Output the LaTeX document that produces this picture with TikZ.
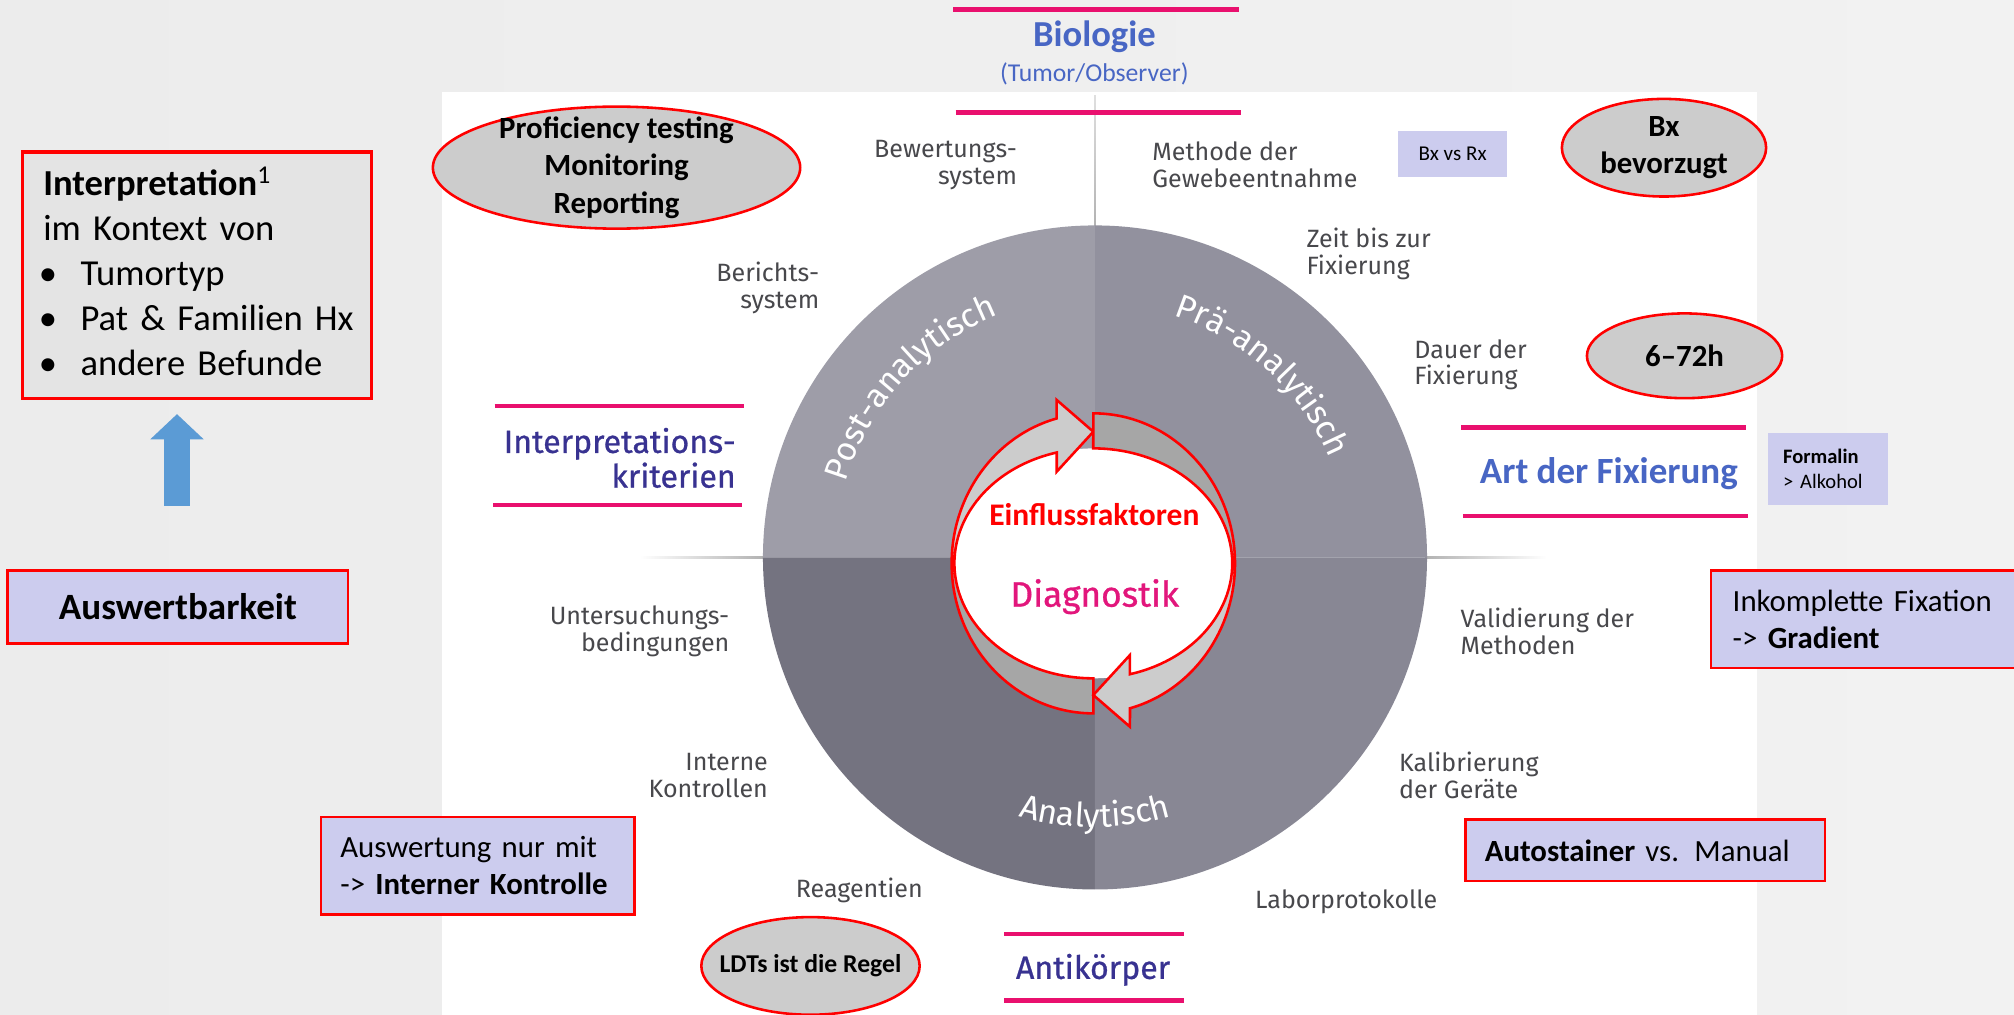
\documentclass[tikz,border=0pt]{standalone}
\usepackage{fontspec}
\setmainfont{Carlito}
\newfontfamily\lblfont{Fira Sans}
\newfontfamily\lblmed{Fira Sans}[FakeBold=0.8]
\usetikzlibrary{shapes.geometric,decorations.text,arrows.meta}

\definecolor{pinkline}{RGB}{233,16,110}
\definecolor{bioblue}{RGB}{72,102,196}
\definecolor{indigo}{RGB}{56,50,145}
\definecolor{diagpink}{RGB}{226,22,124}
\definecolor{lavbox}{RGB}{204,204,238}
\definecolor{boxgray}{RGB}{228,228,228}
\definecolor{ellgray}{RGB}{204,204,204}
\definecolor{lblgray}{RGB}{72,72,76}
\definecolor{upblue}{RGB}{91,155,213}
\definecolor{qtl}{RGB}{158,157,168}
\definecolor{qtr}{RGB}{146,145,158}
\definecolor{qbl}{RGB}{116,115,128}
\definecolor{qbr}{RGB}{136,135,148}
\definecolor{arrlight}{RGB}{204,204,204}
\definecolor{arrdark}{RGB}{166,166,166}
\definecolor{bgl}{RGB}{236,236,236}
\definecolor{bgm}{RGB}{249,249,249}
\definecolor{bgr}{RGB}{242,242,242}

\newcommand\discfont{\color{white}\lblfont\fontsize{26}{26}\selectfont}
\newcommand\bul{\hspace*{-3.5pt}\makebox[32.5pt][l]{•}}

\tikzset{
  looparrow/.pic={
    \begin{scope}[yscale=-1]
      \fill[arrlight] (0,-116.8) arc[start angle=270, end angle=105, x radius=110.3, y radius=116.8]
        -- (-28.5,127.2) -- (0,102.5) -- (-28.5,71.4) -- (-28.5,86.3)
        arc[start angle=105.3, end angle=270, x radius=108.2, y radius=89.5] -- cycle;
      \fill[arrdark] (0,-116.8) arc[start angle=270, end angle=180, x radius=110.3, y radius=116.8]
        -- (-108.2,0) arc[start angle=180, end angle=270, x radius=108.2, y radius=89.5] -- cycle;
      \draw[red, line width=2pt] (0,-116.8) arc[start angle=270, end angle=105, x radius=110.3, y radius=116.8]
        -- (-28.5,127.2) -- (0,102.5) -- (-28.5,71.4) -- (-28.5,86.3)
        arc[start angle=105.3, end angle=270, x radius=108.2, y radius=89.5] -- cycle;
    \end{scope}
  }
}

\begin{document}
\begin{tikzpicture}[x=1pt, y=-1pt,
    lbl/.style={font=\lblfont\fontsize{19.5}{21}\selectfont, text=lblgray, inner sep=0pt},
    head/.style={font=\lblmed\fontsize{25}{27}\selectfont, text=indigo, inner sep=0pt},
    ell/.style={ellipse, draw=red, line width=2pt, fill=ellgray, inner sep=0pt},
    ebold/.style={font=\bfseries\fontsize{24}{29}\selectfont, align=center, inner sep=0pt},
    note/.style={draw=red, line width=2pt, fill=lavbox, inner sep=0pt, inner xsep=15pt,
      align=left, anchor=north west, font=\fontsize{24}{29}\selectfont},
    tag/.style={fill=lavbox, inner sep=0pt, anchor=north west},
    pinkbar/.style={pinkline, line width=3.5pt}]

  \useasboundingbox (0,0) rectangle (1568,790);
  \shade[left color=bgl, middle color=bgm, right color=bgr] (0,0) rectangle (1568,790);
  \fill[white] (344,72) rectangle (1367.7,790);

  \shade[top color=gray!25, bottom color=gray!60] (851.9,74) rectangle (853.1,176);
  \shade[left color=white, right color=gray!60] (498,433.4) rectangle (594,434.6);
  \shade[left color=gray!60, right color=white] (1110,433.4) rectangle (1204,434.6);

  \begin{scope}[shift={(852.5,434)}, yscale=-1]
    \foreach \a/\c in {0/qtr, 90/qtl, 180/qbl, 270/qbr}
      \fill[\c] (0,0) -- (\a:258.5) arc[start angle=\a, delta angle=90, radius=258.5] -- cycle;
  \end{scope}

  \begin{scope}[shift={(852.5,434)}]
    \path[decorate, decoration={text along path, text align=center,
      text={|\discfont|Post-analytisch}}] (-180:203) arc[start angle=-180, end angle=-95, radius=203];
    \path[decorate, decoration={text along path, text align=center,
      text={|\discfont|Prä-analytisch}}] (-90:198) arc[start angle=-90, end angle=-5, radius=198];
    \path[decorate, decoration={text along path, text align=center,
      text={|\discfont|Analytisch}}] (-240:210) arc[start angle=-240, end angle=-300, radius=210];
  \end{scope}

  \fill[white] (851.2,438.6) ellipse[x radius=108.2, y radius=89.5];
  \pic (loopa) at (851.2,438.6) {looparrow};
  \pic[rotate=180] (loopb) at (851.2,438.6) {looparrow};

  \node[font=\bfseries\fontsize{24.5}{29}\selectfont, text=red, inner sep=0pt] (einfl) at (852,401) {Einflussfaktoren};
  \node[font=\lblmed\fontsize{27.5}{30}\selectfont, text=diagpink, inner sep=0pt] (diag) at (852.3,464.5) {Diagnostik};

  \node[font=\bfseries\fontsize{28.5}{30}\selectfont, text=bioblue, anchor=base] (bio) at (852,36.3) {Biologie};
  \node[font=\fontsize{20}{24}\selectfont, text=bioblue, anchor=base] (tumor) at (852,63.5) {(Tumor/Observer)};
  \draw[pinkbar] (742.3,7.3) -- (964.4,7.3);
  \draw[pinkbar] (744,87.7) -- (966,87.7);

  \node[head, anchor=east, align=right] (interpk) at (573,356.5) {Interpretations-\\kriterien};
  \draw[pinkbar] (385,316) -- (579,316);
  \draw[pinkbar] (384,393) -- (578,393);

  \node[font=\bfseries\fontsize{28.8}{30}\selectfont, text=bioblue, inner sep=0pt] (artfix) at (1252.6,368.5) {Art der Fixierung};
  \draw[pinkbar] (1137.5,333) -- (1359.4,333);
  \draw[pinkbar] (1139,401.7) -- (1361,401.7);

  \node[head] (anti) at (851,755) {Antikörper};
  \draw[pinkbar] (782,727) -- (922,727);
  \draw[pinkbar] (782,779) -- (922,779);

  \node[lbl, anchor=east, align=right] (bew) at (792,128.5) {Bewertungs-\\system};
  \node[lbl, anchor=west, align=left] (meth) at (897,128.5) {Methode der\\Gewebeentnahme};
  \node[lbl, anchor=west, align=left] (zeit) at (1017,197.5) {Zeit bis zur\\Fixierung};
  \node[lbl, anchor=east, align=right] (ber) at (638,224.5) {Berichts-\\system};
  \node[lbl, anchor=west, align=left] (dauer) at (1101,284) {Dauer der\\Fixierung};
  \node[lbl, anchor=east, align=right] (unters) at (568,491.8) {Untersuchungs-\\bedingungen};
  \node[lbl, anchor=west, align=left] (valid) at (1137,491.8) {Validierung der\\Methoden};
  \node[lbl, anchor=east, align=right] (interne) at (598,604) {Interne\\Kontrollen};
  \node[lbl, anchor=west, align=left] (kalib) at (1089,604) {Kalibrierung\\der Geräte};
  \node[lbl] (reag) at (669,693) {Reagentien};
  \node[lbl, anchor=west] (labor) at (977,702) {Laborprotokolle};

  \node[ell, minimum width=286, minimum height=95] (prof) at (480,130.5) {};
  \node[ebold] (proftext) at (prof) {Proficiency testing\\Monitoring\\Reporting};
  \node[ell, minimum width=159, minimum height=76] (bxell) at (1295.5,115) {};
  \node[ebold] (bxtext) at (bxell) {Bx\\bevorzugt};
  \node[ell, minimum width=152, minimum height=66] (hours) at (1311.5,277) {};
  \node[ebold] (hourstext) at (hours) {6–72h};
  \node[ell, minimum width=170, minimum height=76] (ldt) at (631,752) {};
  \node[ebold, font=\bfseries\fontsize{20}{24}\selectfont] (ldttext) at (ldt) {LDTs ist die Regel};

  \node[tag, minimum width=84.5, minimum height=35.6, font=\fontsize{16.4}{20}\selectfont] (bxrx) at (1088.5,102) {Bx vs Rx};
  \node[tag, minimum width=94, minimum height=55.6, text width=70, inner xsep=12pt, align=left,
    font=\fontsize{16}{20}\selectfont] (formalin) at (1376,337) {\textbf{Formalin}\\> Alkohol};

  \node[note, fill=boxgray, line width=2.6pt, minimum width=272, minimum height=192, text width=239.2,
    inner xsep=16.4pt, font=\fontsize{28.5}{35}\selectfont] (interp) at (16,117)
    {\textbf{Interpretation}\textsuperscript{1}\\
     im Kontext von\\
     \bul Tumortyp\\
     \bul\mbox{Pat \& Familien Hx}\\
     \bul andere Befunde\rule[-6pt]{0pt}{0pt}};
  \node[note, minimum width=265, minimum height=57, inner xsep=0pt, text width=265, align=center,
    font=\bfseries\fontsize{28.9}{32}\selectfont] (ausw) at (5,443) {Auswertbarkeit};
  \coordinate (upfoot) at (137.8,393.7);
  \coordinate (uptip) at (137.8,322.4);
  \draw[upblue, line width=20.2pt, -{Triangle[length=19.6pt, width=40.4pt]}] (upfoot) -- (uptip);

  \node[note, minimum width=244, minimum height=76, text width=214] (kontrolle) at (249,635)
    {Auswertung nur mit\\-> \textbf{Interner Kontrolle}};
  \node[note, minimum width=244, minimum height=76, text width=210, inner xsep=17pt] (inkompl) at (1331,443)
    {Inkomplette Fixation\\-> \textbf{Gradient}};
  \node[note, minimum width=280, minimum height=48, text width=250] (autost) at (1140,637)
    {\textbf{Autostainer} vs. Manual};
\end{tikzpicture}
\end{document}
